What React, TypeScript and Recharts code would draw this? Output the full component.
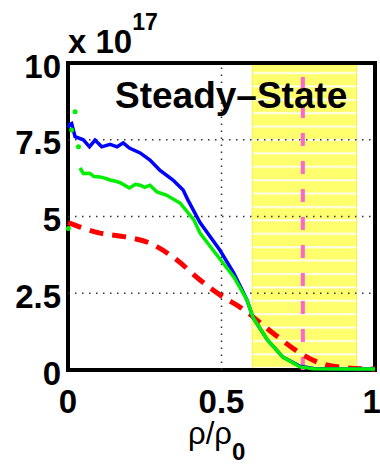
import React from 'react';
import { ComposedChart, Line, Scatter, XAxis, YAxis, ReferenceArea, ReferenceLine } from 'recharts';

// values in units of 1e17
const blueRho = [0, 0.006, 0.012, 0.023, 0.05, 0.07, 0.088, 0.11, 0.137, 0.16, 0.18, 0.2, 0.235, 0.267, 0.3, 0.342, 0.375, 0.39, 0.43, 0.495, 0.54, 0.583, 0.603, 0.648, 0.7, 0.756, 0.8, 0.9, 1];
const blueDensity = [7.9, 8.0, 8.03, 7.6, 7.5, 7.27, 7.49, 7.27, 7.35, 7.27, 7.4, 7.23, 7.07, 6.84, 6.5, 6.19, 5.86, 5.55, 4.8, 3.9, 3.16, 2.28, 1.7, 1.0, 0.42, 0.12, 0.05, 0.03, 0.03];

const greenRho = [0.039, 0.05, 0.07, 0.085, 0.104, 0.12, 0.137, 0.155, 0.17, 0.2, 0.22, 0.235, 0.25, 0.267, 0.29, 0.32, 0.365, 0.41, 0.43, 0.473, 0.54, 0.583, 0.603, 0.648, 0.7, 0.756, 0.8, 0.9, 1];
const greenDensity = [6.58, 6.4, 6.41, 6.3, 6.29, 6.25, 6.19, 6.15, 6.1, 5.93, 6.05, 6.02, 5.95, 6.02, 5.8, 5.7, 5.44, 4.89, 4.46, 3.9, 3.03, 2.28, 1.7, 1.0, 0.42, 0.1, 0.04, 0.03, 0.03];
const greenStrayRho = [0.001, 0.012, 0.023, 0.034];
const greenStrayDensity = [4.61, 7.82, 8.41, 7.27];

const redRho = [0, 0.104, 0.19, 0.267, 0.355, 0.43, 0.505, 0.56, 0.668, 0.756, 0.82, 0.91, 1];
const redDensity = [4.8, 4.46, 4.33, 4.13, 3.58, 2.93, 2.38, 2.05, 1.2, 0.55, 0.23, 0.07, 0.03];

const xTicks = [0, 0.5, 1];
const yTicks = [0, 2.5, 5, 7.5, 10];
const yTickLabels = ['0', '2.5', '5', '7.5', '10'];
const gridY = [2.5, 5, 7.5];
const bandStart = 0.6;
const bandEnd = 0.94;
const markerRho = 0.765;

const zip = (xs: number[], ys: number[]) => xs.map((x, i) => ({ x, y: ys[i] }));
const blue = zip(blueRho, blueDensity);
const green = zip(greenRho, greenDensity);
const greenStray = zip(greenStrayRho, greenStrayDensity);
const red = zip(redRho, redDensity);

const FONT = '"Liberation Sans", Arial, Helvetica, sans-serif';
const tickStyle = { fontSize: 33, fontWeight: 700, fill: '#000', fontFamily: FONT };

export default function App() {
  return (
    <div style={{ position: 'absolute', left: 0, top: 0, width: 380, height: 465, background: '#fff' }}>
      <ComposedChart width={380} height={465} margin={{ top: 63, right: 5, bottom: 35, left: 0 }}>
        <defs>
          <pattern id="hatch" patternUnits="userSpaceOnUse" width={10} height={13.4}>
            <rect width={10} height={13.4} fill="#ffff6e" />
            <rect y={5} width={10} height={2} fill="#fffff0" />
          </pattern>
        </defs>
        <XAxis
          dataKey="x"
          type="number"
          domain={[0, 1]}
          ticks={xTicks}
          tickFormatter={(v: number) => String(v)}
          axisLine={false}
          tickLine={false}
          tickSize={0}
          tickMargin={20}
          height={60}
          tick={tickStyle}
          allowDuplicatedCategory={false}
        />
        <YAxis
          dataKey="y"
          type="number"
          domain={[0, 10]}
          ticks={yTicks}
          tickFormatter={(v: number) => yTickLabels[yTicks.indexOf(v)]}
          axisLine={false}
          tickLine={false}
          tickSize={0}
          tickMargin={7}
          width={68}
          tick={{ ...tickStyle, dy: 3 }}
        />
        <ReferenceArea x1={bandStart} x2={bandEnd} y1={0} y2={10} fill="url(#hatch)" fillOpacity={1} stroke="#f2f24a" strokeWidth={1} />
        <ReferenceLine x={0.5} stroke="#333" strokeWidth={1.5} strokeDasharray="1.5 5.5" />
        {gridY.map((g) => (
          <ReferenceLine key={g} y={g} stroke="#333" strokeWidth={1.5} strokeDasharray="1.5 5.5" />
        ))}
        <ReferenceLine x={markerRho} stroke="#ff66cc" strokeWidth={4} strokeDasharray="13 15" />
        <ReferenceArea x1={0} x2={1} y1={0} y2={10} fill="none" stroke="#000" strokeWidth={4} />
        <Line data={red} dataKey="y" type="monotone" stroke="#ff0000" strokeWidth={5} strokeDasharray="14 9" dot={false} isAnimationActive={false} />
        <Line data={blue} dataKey="y" type="linear" stroke="#0000ff" strokeWidth={3.5} dot={false} isAnimationActive={false} />
        <Line data={green} dataKey="y" type="linear" stroke="#00ee00" strokeWidth={3.5} dot={false} isAnimationActive={false} />
        <Scatter data={greenStray} dataKey="y" fill="#00ee00" shape={(p: any) => <circle cx={p.cx} cy={p.cy} r={2.5} fill="#00ee00" />} isAnimationActive={false} />
      </ComposedChart>
      <svg width={380} height={465} style={{ position: 'absolute', left: 0, top: 0, pointerEvents: 'none' }}>
        <text x={115} y={108} fontFamily={FONT} fontWeight={700} fontSize={37} fill="#000">Steady–State</text>
        <text x={68} y={53} fontFamily={FONT} fontWeight={700} fontSize={33} fill="#000">
          x 10<tspan fontSize={23} dy={-23}>17</tspan>
        </text>
        <text x={188} y={444} fontFamily={FONT} fontSize={31} fill="#000">
          ρ/ρ<tspan fontWeight={700} fontSize={24} dy={16}>0</tspan>
        </text>
      </svg>
    </div>
  );
}
